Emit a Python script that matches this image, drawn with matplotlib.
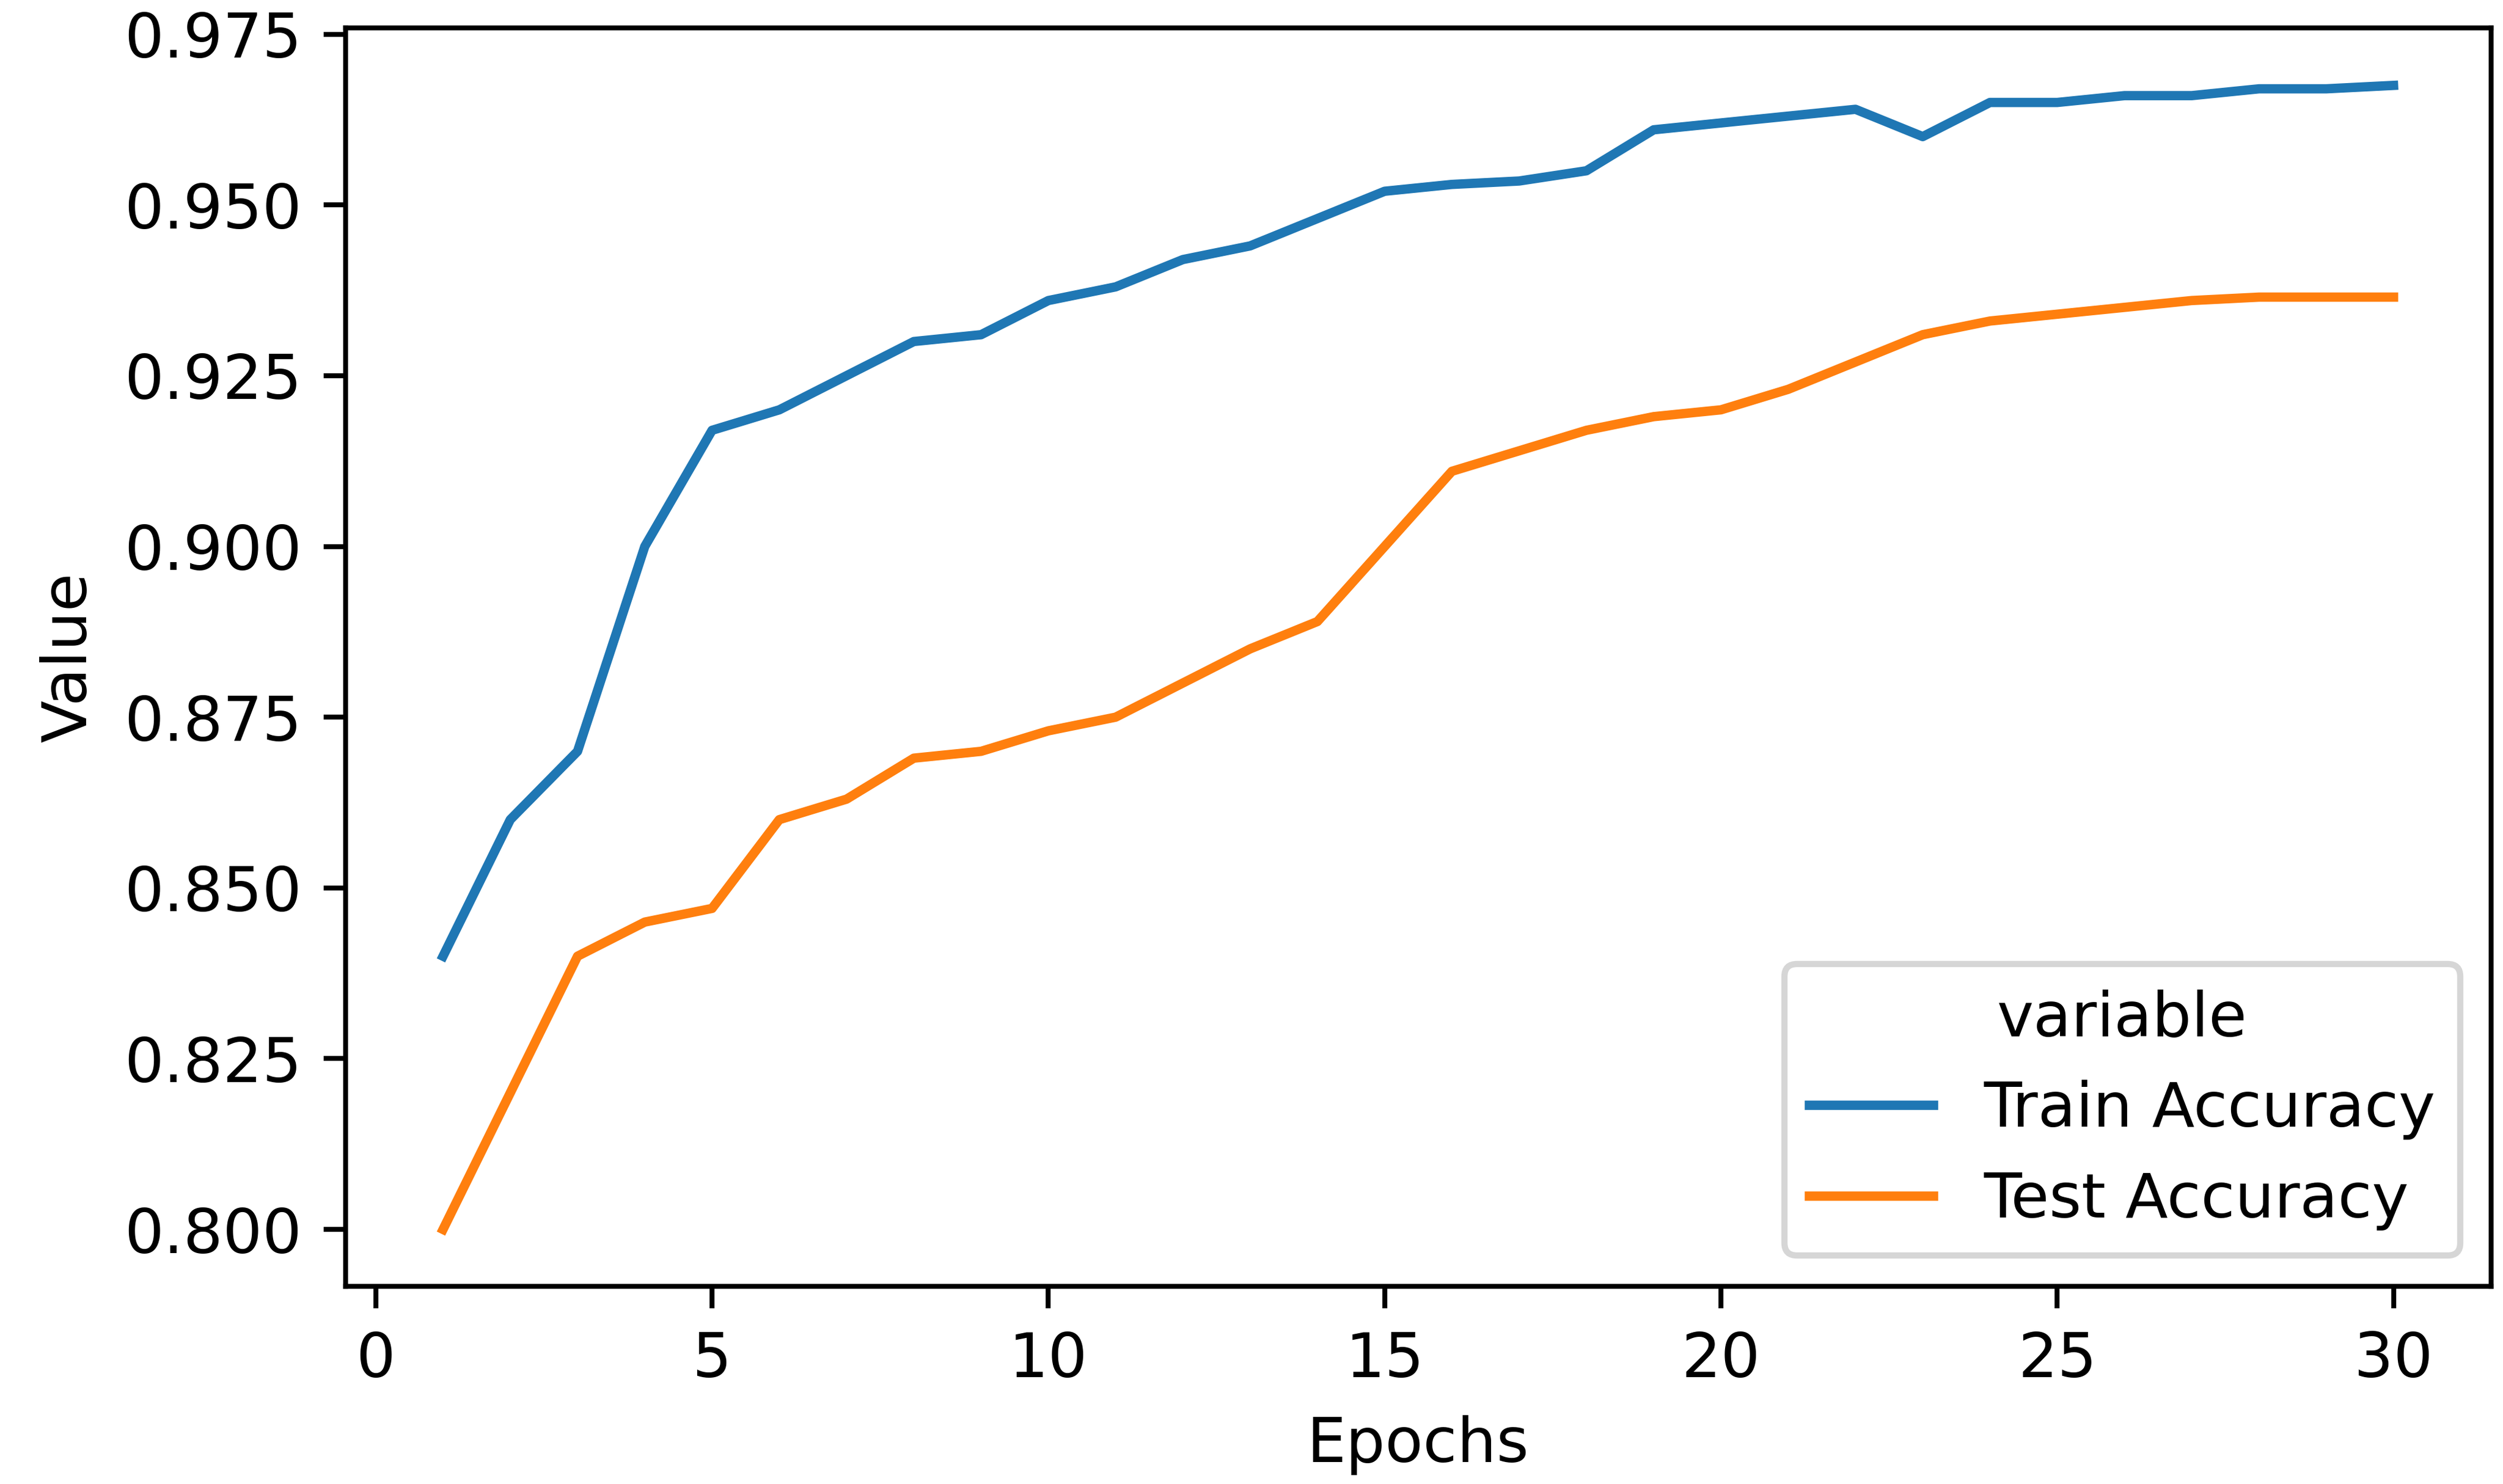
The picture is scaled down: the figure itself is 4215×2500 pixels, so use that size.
import matplotlib
matplotlib.use("Agg")
import matplotlib.pyplot as plt
import pandas as pd
import seaborn as sns

# Accuracy per epoch
epochs = list(range(1, 31))
train_acc = [0.840, 0.860, 0.870, 0.900, 0.917, 0.920, 0.925, 0.930, 0.931, 0.936,
             0.938, 0.942, 0.944, 0.948, 0.952, 0.953, 0.9535, 0.955, 0.961, 0.962,
             0.963, 0.964, 0.960, 0.965, 0.965, 0.966, 0.966, 0.967, 0.967, 0.9675]
test_acc = [0.800, 0.820, 0.840, 0.845, 0.847, 0.860, 0.863, 0.869, 0.870, 0.873,
            0.875, 0.880, 0.885, 0.889, 0.900, 0.911, 0.914, 0.917, 0.919, 0.920,
            0.923, 0.927, 0.931, 0.933, 0.934, 0.935, 0.936, 0.9365, 0.9365, 0.9365]

df = pd.DataFrame({"Epochs": epochs,
                   "Train Accuracy": train_acc,
                   "Test Accuracy": test_acc})
long_df = df.melt(id_vars="Epochs", value_vars=["Train Accuracy", "Test Accuracy"])

# smaller figure at higher dpi so text and lines come out a bit heavier
fig, ax = plt.subplots(figsize=(5.6, 3.3207), dpi=752.857)
sns.lineplot(data=long_df, x="Epochs", y="value", hue="variable", ax=ax)

ax.set_xlabel("Epochs")
ax.set_ylabel("Value")
ax.set_xticks([0, 5, 10, 15, 20, 25, 30])
ax.set_yticks([0.800, 0.825, 0.850, 0.875, 0.900, 0.925, 0.950, 0.975])
ax.legend(title="variable", loc="lower right")

plt.subplots_adjust(left=0.138, right=0.995, top=0.981, bottom=0.133)
plt.savefig("out.png")
